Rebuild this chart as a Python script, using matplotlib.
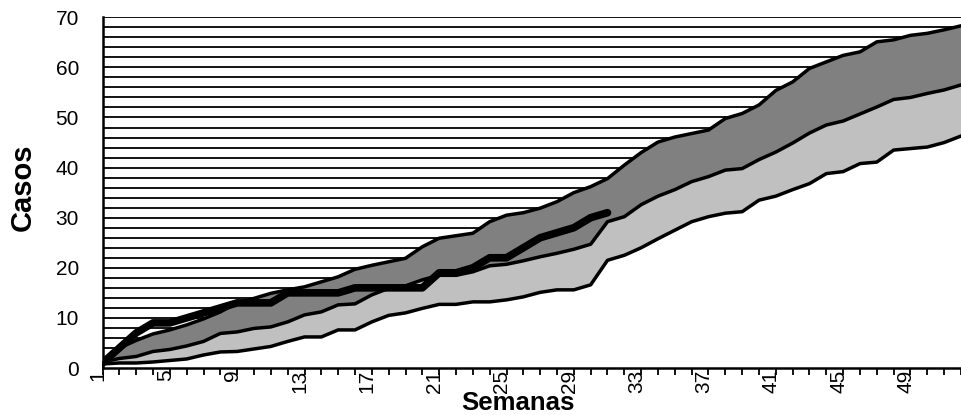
import numpy as np
import matplotlib
matplotlib.use("Agg")
from matplotlib import pyplot as plt
from matplotlib.transforms import ScaledTranslation

plt.rcParams["font.family"] = ["Liberation Sans", "DejaVu Sans"]

weeks = np.arange(1, 53)

# limite inferior (borde de la banda gris claro)
lower = [0.8, 1.0, 1.0, 1.2, 1.5, 1.8, 2.6, 3.2, 3.3, 3.8,
         4.3, 5.3, 6.2, 6.2, 7.6, 7.6, 9.2, 10.5, 11.0, 11.9,
         12.7, 12.7, 13.2, 13.2, 13.6, 14.2, 15.1, 15.6, 15.6, 16.6,
         21.5, 22.5, 24.0, 25.8, 27.5, 29.2, 30.2, 30.9, 31.2, 33.5,
         34.3, 35.6, 36.8, 38.8, 39.2, 40.8, 41.1, 43.5, 43.8, 44.1,
         45.0, 46.3]
# limite medio
middle = [1.2, 1.9, 2.3, 3.3, 3.7, 4.4, 5.3, 6.9, 7.2, 7.9,
          8.2, 9.2, 10.6, 11.2, 12.6, 12.8, 14.6, 15.9, 16.4, 17.6,
          18.5, 18.5, 19.2, 20.4, 20.7, 21.4, 22.2, 22.9, 23.7, 24.7,
          29.2, 30.2, 32.6, 34.3, 35.6, 37.2, 38.2, 39.5, 39.8, 41.6,
          43.1, 44.9, 46.9, 48.5, 49.3, 50.7, 52.1, 53.6, 54.0, 54.8,
          55.5, 56.5]
# limite superior
upper = [1.5, 4.0, 5.5, 6.8, 7.6, 8.6, 9.8, 11.2, 13.0, 13.9,
         14.9, 15.6, 16.2, 17.2, 18.2, 19.7, 20.5, 21.2, 21.9, 24.2,
         25.9, 26.4, 26.9, 29.2, 30.5, 31.0, 31.9, 33.2, 35.0, 36.2,
         37.8, 40.5, 43.0, 45.1, 46.1, 46.8, 47.5, 49.8, 50.8, 52.5,
         55.4, 57.1, 59.8, 61.1, 62.4, 63.1, 65.1, 65.5, 66.4, 66.8,
         67.5, 68.3]
# casos observados
observed = [1, 4, 7, 9, 9, 10, 11, 12, 13, 13,
            13, 15, 15, 15, 15, 16, 16, 16, 16, 16,
            19, 19, 20, 22, 22, 24, 26, 27, 28, 30, 31]
obs_weeks = np.arange(1, len(observed) + 1)

tick_labels = [str(w) for w in range(1, 50, 4)]

fig = plt.figure(figsize=(9.61, 4.15), dpi=100)
ax = fig.add_axes([102.5 / 961, 47 / 415, 1 - 102.5 / 961, (368 - 17.3) / 415])

# fondo rayado horizontal
for yv in range(2, 71, 2):
    ax.axhline(yv, color="black", lw=1.3, zorder=1)

ax.fill_between(weeks, 0, lower, color="white", lw=0, zorder=2)
ax.fill_between(weeks, lower, middle, color="#c0c0c0", lw=0, zorder=3)
ax.fill_between(weeks, middle, upper, color="#808080", lw=0, zorder=3)
for series in (lower, middle, upper):
    ax.plot(weeks, series, color="black", lw=2.5, zorder=4, solid_joinstyle="round")
ax.plot(obs_weeks, observed, color="black", lw=5.5, zorder=5,
        solid_joinstyle="round", solid_capstyle="round")

ax.set_xlim(1, 1 + (961 - 102.5) / 17.03)
ax.set_ylim(0, 70)
ax.spines["top"].set_visible(False)
ax.spines["right"].set_visible(False)
ax.spines["left"].set_linewidth(1.8)
ax.spines["bottom"].set_linewidth(1.8)
ax.spines["left"].set_zorder(6)
ax.spines["bottom"].set_zorder(6)

ax.set_yticks(range(0, 71, 10))
ax.tick_params(axis="y", length=0, pad=17, labelsize=15)

ax.set_xticks(weeks)
ax.set_xticklabels([str(w) if str(w) in tick_labels else "" for w in weeks],
                   rotation=90, ha="right", va="top")
ax.tick_params(axis="x", direction="inout", length=9.4, width=1.3, pad=-3.5, labelsize=15)
offset = ScaledTranslation(3.5 / 72, 0, fig.dpi_scale_trans)
for lbl in ax.get_xticklabels():
    lbl.set_transform(lbl.get_transform() + offset)

fig.text(22.5 / 961, 1 - 187 / 415, "Casos", rotation=90, ha="center", va="center",
         fontsize=21, fontweight="bold")
fig.text(517.5 / 961, 1 - 410 / 415, "Semanas", ha="center", va="baseline",
         fontsize=18.5, fontweight="bold")

fig.savefig("out.png", dpi=100)
